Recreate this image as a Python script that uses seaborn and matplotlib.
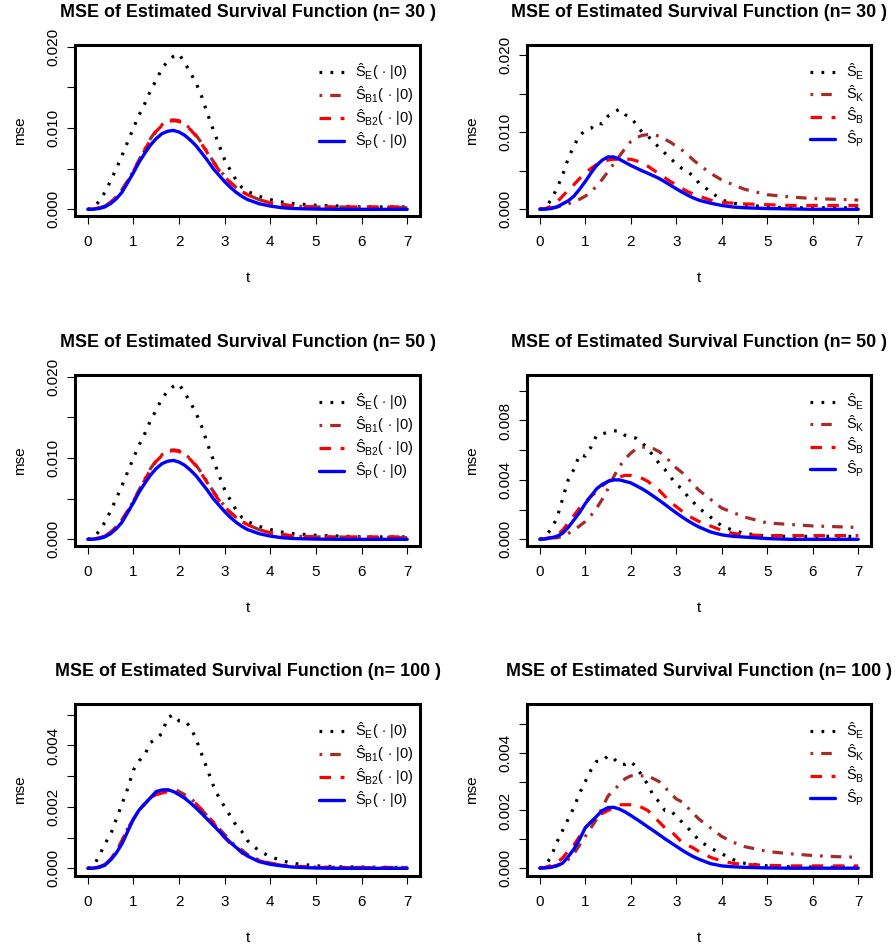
import numpy as np
import pandas as pd
import seaborn as sns
import matplotlib
matplotlib.use("Agg")
import matplotlib.pyplot as plt

# time grid the curves were read at (finer where the curves bend)
t = [0, 0.125, 0.25, 0.375, 0.5, 0.625, 0.75, 0.875, 1, 1.125, 1.25, 1.375, 1.5, 1.625, 1.75, 1.875,
     2, 2.125, 2.25, 2.375, 2.5, 2.625, 2.75, 2.875, 3, 3.125, 3.25, 3.375, 3.5,
     3.75, 4, 4.25, 4.5, 5, 5.5, 6, 6.5, 7]

# n = 30, conditional estimators (left column)
n30_cond_E = [0, .0002, .0010, .0021, .0035, .0050, .0066, .0083, .0100, .0116, .0130, .0146, .0159, .0173, .0182, .0188,
              .0191, .0180, .0168, .0155, .0138, .0117, .0098, .0079, .0061, .0048, .0036, .0027, .0022,
              .0016, .0012, .0009, .0007, .0005, .0004, .0003, .0003, .0003]
n30_cond_B1 = [0, .00003, .0002, .0004, .0009, .0015, .0024, .0035, .0047, .0061, .0074, .0087, .0097, .0104, .0109, .0110,
               .0109, .0105, .0099, .0091, .0081, .0070, .0059, .0049, .0041, .0033, .0027, .0022, .0018,
               .0012, .0008, .0006, .0004, .0003, .0003, .0002, .0002, .0002]
n30_cond_B2 = [0, .00003, .0002, .0004, .0009, .0015, .0024, .0035, .0047, .0060, .0073, .0086, .0096, .0103, .0108, .0109,
               .0108, .0104, .0098, .0090, .0080, .0069, .0058, .0048, .0040, .0033, .0027, .0022, .0018,
               .0012, .0008, .0006, .0004, .0003, .0003, .0003, .0003, .0003]
n30_cond_P = [0, .00002, .0001, .0003, .0007, .0013, .0021, .0033, .0045, .0058, .0069, .0079, .0087, .0093, .0096, .0097,
              .0095, .0091, .0085, .0078, .0069, .0060, .0050, .0042, .0034, .0027, .0021, .0016, .0012,
              .0007, .0004, .0002, .0001, .00003, 0, 0, 0, 0]

# n = 30, estimators on the right
n30_E = [0, .0003, .0012, .0027, .0044, .0066, .0082, .0096, .0102, .0105, .0112, .0111, .0121, .0126, .0130, .0123,
         .0119, .0110, .0100, .0095, .0088, .0080, .0073, .0066, .0059, .0053, .0049, .0043, .0034,
         .0023, .0012, .0008, .0006, .0003, .0002, .0002, .0002, .0002]
n30_K = [0, .0001, .0002, .0003, .0005, .0007, .0010, .0013, .0017, .0023, .0030, .0039, .0049, .0059, .0069, .0079,
         .0088, .0093, .0096, .0097, .0097, .0095, .0091, .0087, .0082, .0077, .0071, .0064, .0058,
         .0047, .0038, .0032, .0026, .0019, .0016, .0014, .0013, .0012]
n30_B = [0, .0001, .0004, .0009, .0017, .0025, .0032, .0040, .0047, .0053, .0058, .0062, .0064, .0065, .0065, .0065,
         .0065, .0063, .0060, .0056, .0051, .0046, .0041, .0036, .0032, .0027, .0023, .0020, .0017,
         .0012, .0009, .0008, .0007, .0006, .0005, .0005, .0005, .0005]
n30_P = [0, .00002, .0001, .0003, .0007, .0011, .0017, .0026, .0036, .0047, .0057, .0064, .0068, .0068, .0065, .0061,
         .0057, .00535, .0050, .00468, .00435, .0040, .00357, .00312, .00267, .00223, .00183, .00148, .00118,
         .0008, .0005, .0003, .0002, .0001, .00005, 0, 0, 0]

# n = 50, conditional estimators (left column)
n50_cond_E = [0, .0002, .0010, .0021, .0035, .0050, .0066, .0083, .0100, .0116, .0130, .0146, .0159, .0173, .0182, .0188,
              .0191, .0180, .0168, .0155, .0138, .0117, .0098, .0079, .0061, .0048, .0036, .0027, .0022,
              .0016, .0012, .0009, .0007, .0005, .0004, .0003, .0003, .0003]
n50_cond_B1 = [0, .00003, .0002, .0004, .0009, .0015, .0024, .0035, .0047, .0061, .0074, .0087, .0097, .0104, .0109, .0110,
               .0109, .0105, .0099, .0091, .0081, .0070, .0059, .0049, .0041, .0033, .0027, .0022, .0018,
               .0012, .0008, .0006, .0004, .0003, .0003, .0002, .0002, .0002]
n50_cond_B2 = [0, .00003, .0002, .0004, .0009, .0015, .0024, .0035, .0047, .0060, .0073, .0086, .0096, .0103, .0108, .0109,
               .0108, .0104, .0098, .0090, .0080, .0069, .0058, .0048, .0040, .0033, .0027, .0022, .0018,
               .0012, .0008, .0006, .0004, .0003, .0003, .0003, .0003, .0003]
n50_cond_P = [0, .00002, .0001, .0003, .0007, .0013, .0021, .0033, .0045, .0058, .0069, .0079, .0087, .0093, .0096, .0097,
              .0095, .0091, .0085, .0078, .0069, .0060, .0050, .0042, .0034, .0027, .0021, .0016, .0012,
              .0007, .0004, .0002, .0001, .00003, 0, 0, 0, 0]

# n = 50, estimators on the right
n50_E = [0, .0002, .0007, .0014, .0027, .0040, .0047, .0057, .0056, .0062, .0070, .0071, .0072, .0073, .0073, .0070,
         .0069, .0068, .0065, .0061, .0056, .0051, .0047, .0042, .0037, .0034, .0029, .0025, .0021,
         .0015, .0009, .0006, .0004, .0002, .0002, .0002, .0002, .0002]
n50_K = [0, .00005, .0001, .0001, .0002, .0004, .0006, .0009, .0012, .0016, .0021, .0027, .0034, .0042, .0049, .0054,
         .0058, .0061, .0062, .0062, .0061, .0059, .0056, .0052, .0048, .0045, .0041, .0037, .0033,
         .0027, .0021, .0018, .0015, .0011, .0010, .0009, .00085, .0008]
n50_B = [0, .00005, .00015, .0003, .0006, .0011, .0016, .0021, .0025, .0029, .0032, .0036, .0039, .0041, .0042, .0043,
         .0043, .0042, .0041, .0039, .0036, .0033, .0029, .0025, .0022, .0019, .0016, .0014, .0012,
         .0009, .0006, .0004, .0003, .00025, .00025, .00025, .00025, .00025]
n50_P = [0, .00002, .0001, .0002, .0004, .0008, .0013, .0018, .0024, .0029, .0034, .0037, .0039, .0040, .0040, .0039,
         .0038, .0036, .0034, .00316, .0029, .00263, .00235, .00206, .00178, .00151, .00126, .00103, .00083,
         .0005, .0003, .0002, .00015, .00005, 0, 0, 0, 0]

# n = 100, conditional estimators (left column)
n100_cond_E = [0, .00008, .0004, .0008, .0011, .0016, .0021, .0026, .0032, .0035, .0037, .0041, .0042, .0044, .0049, .0050,
               .0048, .0048, .0046, .0042, .0037, .0032, .0027, .0023, .0020, .0017, .0014, .0012, .0009,
               .00057, .00038, .00025, .00016, .00008, .00005, .00004, .00003, .00003]
n100_cond_B1 = [0, .00001, .00005, .00013, .0003, .00055, .0009, .0013, .0016, .0019, .0021, .0023, .0024, .0025, .00255, .0026,
                .0025, .0024, .0023, .0021, .0019, .0017, .0015, .0013, .0011, .0009, .0007, .0006, .00045,
                .00027, .00017, .00011, .00007, .00004, .00003, .00003, .00003, .00003]
n100_cond_B2 = [0, .00001, .00005, .00013, .0003, .00055, .0009, .0013, .0016, .0019, .0021, .0023, .0024, .00245, .0025, .0025,
                .0024, .0023, .0022, .0021, .0019, .0017, .0015, .0012, .0010, .0008, .0007, .0005, .00043,
                .00025, .00015, .0001, .00006, .00003, .00002, .00002, .00002, .00002]
n100_cond_P = [0, .000005, .00003, .0001, .00027, .0005, .0008, .0012, .0016, .0019, .0021, .0023, .0025, .00255, .00256, .0025,
               .0024, .00228, .00213, .00196, .00178, .00159, .0014, .00121, .00102, .00084, .00068, .00053, .0004,
               .00022, .00013, .00008, .00004, .00001, 0, 0, 0, 0]

# n = 100, estimators on the right
n100_E = [0, .0001, .0004, .0009, .0013, .0017, .0021, .0026, .0030, .0034, .0037, .0037, .0039, .0038, .0036, .0036,
          .0037, .0035, .0032, .0029, .0025, .0023, .0020, .0020, .0018, .0016, .0014, .0012, .00096,
          .0007, .0005, .0003, .00017, .00008, .00005, .00004, .00003, .00003]
n100_K = [0, .00002, .00005, .0001, .00017, .0003, .0005, .0008, .0011, .0014, .0017, .0021, .0025, .0027, .0029, .0031,
          .0032, .0032, .0032, .0032, .0031, .0030, .0028, .0026, .0024, .0023, .0021, .0019, .0017,
          .0014, .0011, .0009, .00075, .00058, .0005, .00044, .0004, .00038]
n100_B = [0, .00003, .0001, .0002, .00035, .0006, .0008, .0011, .0014, .0016, .0018, .0019, .0020, .0021, .0022, .0022,
          .0022, .0022, .0021, .0020, .0018, .0016, .0014, .0013, .0011, .0009, .0008, .0007, .00058,
          .00038, .00025, .00017, .00013, .0001, .00008, .00008, .00008, .00008]
n100_P = [0, .00001, .00003, .00008, .00017, .0004, .00066, .0010, .0014, .0016, .0018, .0020, .0021, .00211, .00205, .00195,
          .00183, .0017, .00157, .00143, .0013, .00116, .00102, .00089, .00076, .00063, .00051, .0004, .00031,
          .00016, .00008, .00005, .00003, .00001, 0, 0, 0, 0]

cond_labels = [r"$\hat{\mathrm{S}}_{\mathrm{E}}(\,\cdot\,|0)$", r"$\hat{\mathrm{S}}_{\mathrm{B1}}(\,\cdot\,|0)$",
               r"$\hat{\mathrm{S}}_{\mathrm{B2}}(\,\cdot\,|0)$", r"$\hat{\mathrm{S}}_{\mathrm{P}}(\,\cdot\,|0)$"]
marg_labels = [r"$\hat{\mathrm{S}}_{\mathrm{E}}$", r"$\hat{\mathrm{S}}_{\mathrm{K}}$",
               r"$\hat{\mathrm{S}}_{\mathrm{B}}$", r"$\hat{\mathrm{S}}_{\mathrm{P}}$"]

colors = ["black", "brown", "red", "blue"]
styles = [(0, (0.85, 2.6)), (0, (0.85, 2.5, 3.3, 2.5)), (0, (3.6, 3.0)), "-"]
widths = [2.3, 2.3, 2.3, 2.4]

sns.set_style("ticks")
plt.rcParams["font.family"] = ["Liberation Sans", "DejaVu Sans"]
plt.rcParams["mathtext.fontset"] = "custom"
plt.rcParams["mathtext.rm"] = "Liberation Sans"
plt.rcParams["mathtext.it"] = "Liberation Sans:italic"
plt.rcParams["mathtext.bf"] = "Liberation Sans:bold"
for key in ["text.color", "axes.labelcolor", "xtick.color", "ytick.color"]:
    plt.rcParams[key] = "black"

W, H = 896, 948
fig = plt.figure(figsize=(W / 100, H / 100), dpi=100)

cols_px = [(75, 420), (527, 871)]
rows_px = [(45, 216), (375, 546), (704, 876)]

panels = [
    (0, 0, 30, [n30_cond_E, n30_cond_B1, n30_cond_B2, n30_cond_P], cond_labels,
     (-0.00082, 0.0202), np.arange(0, 0.0201, 0.005), 0.010),
    (0, 1, 30, [n30_E, n30_K, n30_B, n30_P], marg_labels,
     (-0.00087, 0.02134), np.arange(0, 0.0201, 0.005), 0.010),
    (1, 0, 50, [n50_cond_E, n50_cond_B1, n50_cond_B2, n50_cond_P], cond_labels,
     (-0.00082, 0.0202), np.arange(0, 0.0201, 0.005), 0.010),
    (1, 1, 50, [n50_E, n50_K, n50_B, n50_P], marg_labels,
     (-0.00045, 0.01106), np.arange(0, 0.01001, 0.002), 0.004),
    (2, 0, 100, [n100_cond_E, n100_cond_B1, n100_cond_B2, n100_cond_P], cond_labels,
     (-0.00025, 0.00535), np.arange(0, 0.00501, 0.001), 0.002),
    (2, 1, 100, [n100_E, n100_K, n100_B, n100_P], marg_labels,
     (-0.00027, 0.00569), np.arange(0, 0.00501, 0.001), 0.002),
]

for r, c, n, series, labels, ylim, yticks, lab_step in panels:
    x0, x1 = cols_px[c]
    y0, y1 = rows_px[r]
    ax = fig.add_axes([x0 / W, 1 - y1 / H, (x1 - x0) / W, (y1 - y0) / H])
    for vals, lab, col, ls, lw in zip(series, labels, colors, styles, widths):
        df = pd.DataFrame({"t": t, "mse": vals})
        sns.lineplot(data=df, x="t", y="mse", ax=ax, color=col, linestyle=ls,
                     lw=lw, label=lab)
    ax.set_xlim(-0.28, 7.28)
    ax.set_ylim(*ylim)
    ax.set_xticks(range(0, 8))
    ax.set_yticks(yticks)
    ylabs = []
    for v in yticks:
        k = v / lab_step
        ylabs.append(f"{v:.3f}" if abs(k - round(k)) < 1e-6 else "")
    ax.set_yticklabels(ylabs, rotation=90, va="center")
    ax.tick_params(axis="both", direction="out", length=5.8, width=0.8, labelsize=11)
    ax.tick_params(axis="x", pad=8)
    ax.tick_params(axis="y", pad=5)
    for sp in ax.spines.values():
        sp.set_linewidth(2.2)
        sp.set_color("black")
    ax.set_xlabel("t", fontsize=11, labelpad=16)
    ax.set_ylabel("mse", fontsize=11, labelpad=14)
    ax.set_title(f"MSE of Estimated Survival Function (n= {n} )",
                 fontsize=12.9, fontweight="bold", pad=20)
    ax.legend(loc="upper right", bbox_to_anchor=(1 - 6 / (x1 - x0), 1 - 16.5 / (y1 - y0)),
              frameon=False, fontsize=10.5, borderpad=0, borderaxespad=0,
              handlelength=1.7, handletextpad=0.8, labelspacing=0.14)

fig.savefig("out.png", dpi=100)
